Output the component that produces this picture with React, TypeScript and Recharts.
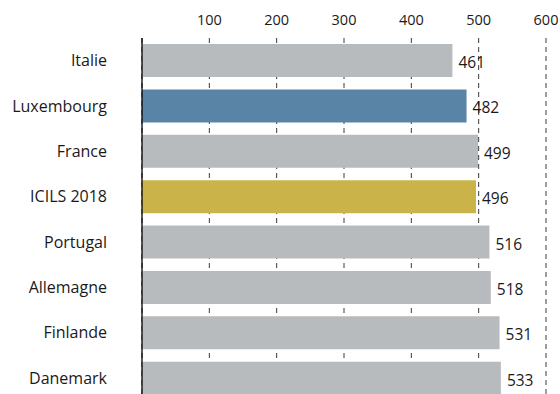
import React from 'react';
import { BarChart, Bar, XAxis, YAxis, CartesianGrid, LabelList, Cell } from 'recharts';

const countries = ['Italie', 'Luxembourg', 'France', 'ICILS 2018', 'Portugal', 'Allemagne', 'Finlande', 'Danemark'];
const scores = [461, 482, 499, 496, 516, 518, 531, 533];
const scaleTicks = [100, 200, 300, 400, 500, 600];

const GREY = '#b8bbbe';
const BAR_COLORS: Record<string, string> = {
  Luxembourg: '#5a84a6',
  'ICILS 2018': '#cab449',
};

const FONT = '"Open Sans", sans-serif';
const TEXT = '#1a1a1a';

const data = countries.map((c, i) => ({ country: c, score: scores[i] }));

const TopTick = (props: any) => {
  const { x, payload } = props;
  return (
    <text x={x} y={25} textAnchor="middle" fontSize={14.5} fontFamily={FONT} fill={TEXT}>
      {payload.value}
    </text>
  );
};

const LeftTick = (props: any) => {
  const { y, payload } = props;
  return (
    <text x={107} y={y + 5.5} textAnchor="end" fontSize={16} fontFamily={FONT} fill={TEXT}>
      {payload.value}
    </text>
  );
};

export default function App() {
  return (
    <div style={{ position: 'absolute', left: 0, top: 0, width: 560, height: 394, overflow: 'hidden' }}>
      <BarChart
        width={560}
        height={402}
        data={data}
        layout="vertical"
        margin={{ top: 8, right: 14, bottom: 1, left: 0 }}
      >
        <CartesianGrid horizontal={false} stroke="#3a3a3a" strokeDasharray="5 4" />
        <XAxis
          type="number"
          orientation="top"
          domain={[0, 600]}
          ticks={scaleTicks}
          height={30}
          axisLine={false}
          tickLine={false}
          tick={<TopTick />}
        />
        <YAxis
          type="category"
          dataKey="country"
          width={142}
          axisLine={{ stroke: '#000', strokeWidth: 1.3 }}
          tickLine={false}
          tick={<LeftTick />}
        />
        <Bar dataKey="score" barSize={33} isAnimationActive={false}>
          {data.map((d) => (
            <Cell key={d.country} fill={BAR_COLORS[d.country] ?? GREY} />
          ))}
          <LabelList
            dataKey="score"
            position="right"
            offset={6}
            fontSize={15.5}
            fontFamily={FONT}
            fill={TEXT}
            dy={2}
          />
        </Bar>
      </BarChart>
    </div>
  );
}
